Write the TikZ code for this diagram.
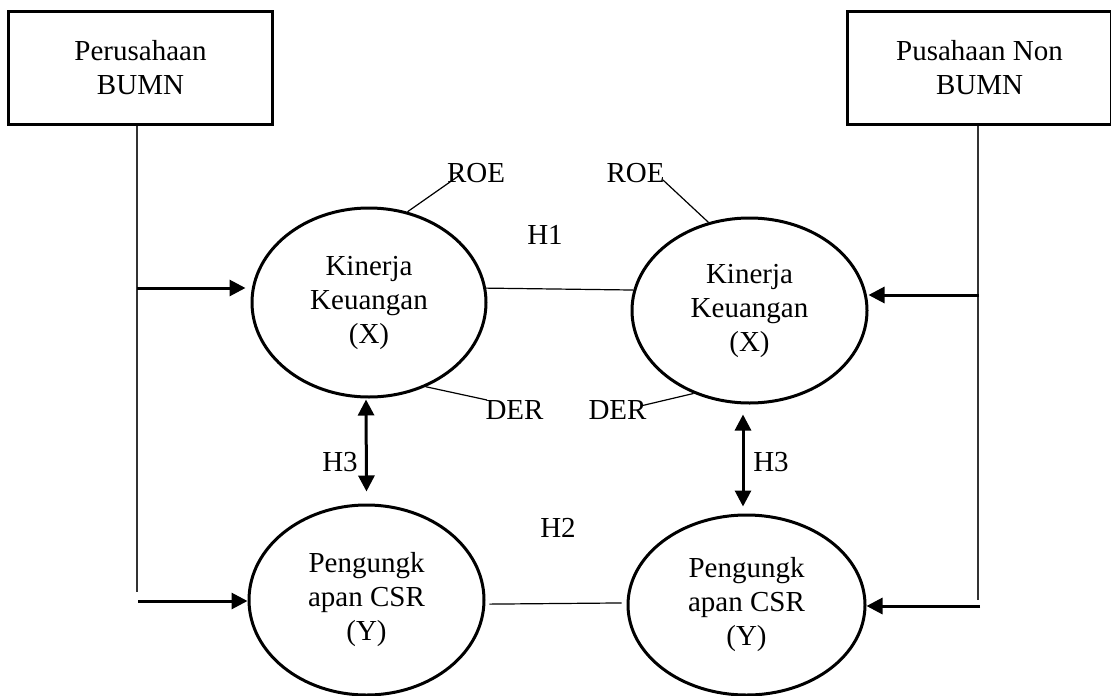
\documentclass[tikz,border=0pt]{standalone}
\usepackage{fontspec}
\setmainfont{Liberation Serif}
\usetikzlibrary{shapes.geometric,arrows.meta}

\begin{document}
\begin{tikzpicture}[x=1pt,y=-1pt,
        every node/.style={font=\fontsize{29}{34}\selectfont},
        firm/.style={draw,line width=3pt,minimum width=264pt,minimum height=113pt,align=center},
        var/.style={draw,ellipse,line width=3pt,inner sep=0pt,align=center},
        lbl/.style={inner sep=0pt},
        thin line/.style={line width=1.2pt},
        trunk/.style={line width=1.5pt,black!80},
        arr/.style={line width=3pt,-{Triangle[length=16pt,width=16pt]}},
        dbl/.style={line width=3pt,{Triangle[length=16pt,width=16pt]}-{Triangle[length=16pt,width=16pt]}}]
        \useasboundingbox (0,0) rectangle (1111,696);

        % firms
        \node[firm] (bumn) at (140.5,68) {Perusahaan\\BUMN};
        \node[firm] (nonbumn) at (979.5,68) {Pusahaan Non\\BUMN};

        % variables
        \node[var,minimum width=234pt,minimum height=189pt] (kinL) at (369,302.5) {Kinerja\\Keuangan\\(X)};
        \node[var,minimum width=235pt,minimum height=185pt] (kinR) at (749.5,310.5) {Kinerja\\Keuangan\\(X)};
        \node[var,minimum width=235pt,minimum height=190pt] (csrL) at (366.5,600) {Pengungk\\apan CSR\\(Y)};
        \node[var,minimum width=237pt,minimum height=180pt] (csrR) at (746.5,605) {Pengungk\\apan CSR\\(Y)};

        % labels
        \node[lbl] (roeL) at (476,173.5) {ROE};
        \node[lbl] (roeR) at (635.5,173.5) {ROE};
        \node[lbl] (derL) at (514.5,410) {DER};
        \node[lbl] (derR) at (617.5,410) {DER};
        \node[lbl] (h1) at (545,235) {H1};
        \node[lbl] (h2) at (558,528) {H2};
        \node[lbl] (h3L) at (340,462) {H3};
        \node[lbl] (h3R) at (771,462) {H3};

        % trunks from the firms
        \coordinate (endL) at (137,592);
        \coordinate (endR) at (978,600);
        \coordinate (jL1) at (137,288);
        \coordinate (jL2) at (138,601);
        \coordinate (jR1) at (979,295);
        \coordinate (jR2) at (980,606);
        \draw[trunk] ([xshift=-3.5pt]bumn.south) -- (endL);
        \draw[trunk] ([xshift=-1.5pt]nonbumn.south) -- (endR);
        \draw[arr,shorten >=5pt] (jL1) -- (jL1 -| kinL.west);
        \draw[arr] (jL2) -- (jL2 -| csrL.west);
        \draw[arr] (jR1) -- (jR1 -| kinR.east);
        \draw[arr] (jR2) -- (jR2 -| csrR.east);

        % hypotheses
        \draw[thin line] (kinL.7) -- (kinR.170);
        \draw[thin line,shorten <=4pt,shorten >=5pt] (csrL.-2) -- (csrR.179);
        \draw[dbl] ([xshift=-3pt,yshift=-1pt]kinL.south) -- ([yshift=12pt]csrL.north);
        \draw[dbl] ([xshift=-6.5pt,yshift=-10pt]kinR.south) -- ([xshift=-3.5pt,yshift=7pt]csrR.north);

        % indicators
        \draw[thin line] (kinL.67) -- ([xshift=-16pt,yshift=-1.5pt]roeL.center);
        \draw[thin line] (kinR.115) -- ([xshift=27.5pt,yshift=-6.5pt]roeR.center);
        \draw[thin line] (kinL.-56) -- ([xshift=-27.5pt,yshift=10pt]derL.center);
        \draw[thin line] (kinR.-124) -- ([xshift=23pt,yshift=4pt]derR.center);
    \end{tikzpicture}
\end{document}
